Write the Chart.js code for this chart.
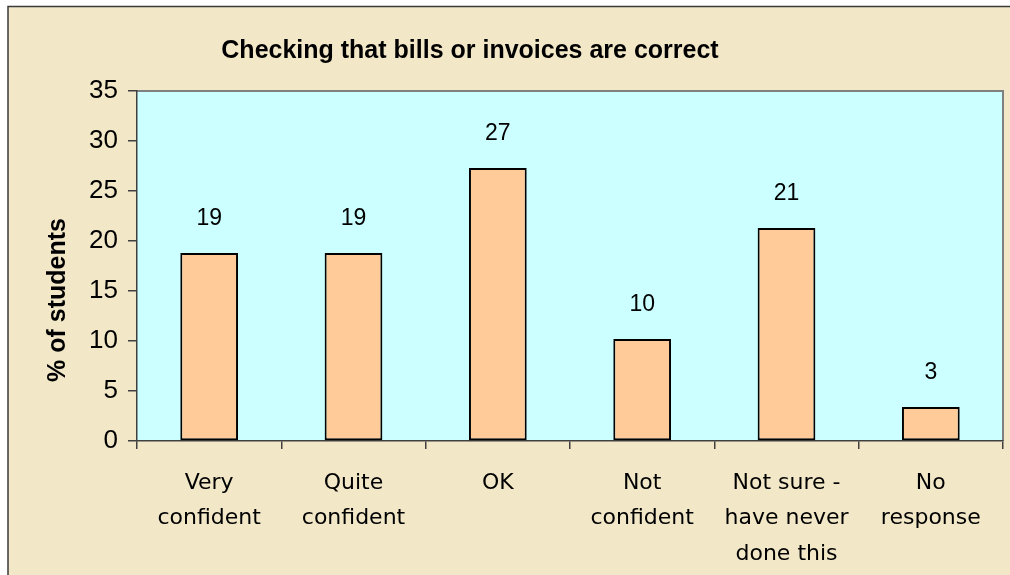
<!DOCTYPE html>
<html>
<head>
<meta charset="utf-8">
<script src="https://cdn.jsdelivr.net/npm/chart.js@4"></script>
<style>
  html, body { margin: 0; padding: 0; background: #fff; }
  #wrap { width: 1010px; height: 575px; }
</style>
</head>
<body>
<div id="wrap"><canvas id="chart" width="1010" height="575"></canvas></div>
<script>
// Data
const categories = [
  ['Very', 'confident'],
  ['Quite', 'confident'],
  'OK',
  ['Not', 'confident'],
  ['Not sure -', 'have never', 'done this'],
  ['No', 'response']
];
const percentValues = [18.8, 18.8, 27.3, 10.2, 21.3, 3.4];
const valueLabels = ['19', '19', '27', '10', '21', '3'];
const yMin = 0;
const yMax = 35;
const yStep = 5;

const chartTitle = 'Checking that bills or invoices are correct';
const yTitle = '% of students';

// Background, frame and plot area
const framePlugin = {
  id: 'frame',
  beforeDraw(chart) {
    const ctx = chart.ctx;
    const a = chart.chartArea;
    ctx.save();
    ctx.fillStyle = '#ffffff';
    ctx.fillRect(0, 0, chart.width, chart.height);
    ctx.fillStyle = '#f2e8c8';
    ctx.fillRect(8, 6, chart.width - 8, chart.height - 6);
    ctx.strokeStyle = '#3a3a3a';
    ctx.lineWidth = 1.5;
    ctx.beginPath();
    ctx.moveTo(8, chart.height);
    ctx.lineTo(8, 6.5);
    ctx.lineTo(chart.width, 6.5);
    ctx.stroke();
    ctx.fillStyle = '#ccffff';
    ctx.fillRect(a.left, a.top, a.right - a.left, a.bottom - a.top);
    ctx.strokeStyle = '#808080';
    ctx.lineWidth = 2;
    ctx.beginPath();
    ctx.moveTo(a.left, a.top);
    ctx.lineTo(a.right, a.top);
    ctx.lineTo(a.right, a.bottom);
    ctx.stroke();
    ctx.restore();
  },
  afterDraw(chart) {
    const ctx = chart.ctx;
    ctx.save();
    ctx.fillStyle = '#000';
    ctx.font = 'bold 25px "Liberation Sans", Arial, sans-serif';
    ctx.textAlign = 'center';
    ctx.textBaseline = 'alphabetic';
    ctx.fillText(chartTitle, 470, 58);
    ctx.translate(65, 300);
    ctx.rotate(-Math.PI / 2);
    ctx.fillText(yTitle, 0, 0);
    ctx.restore();
  }
};

// Value labels above the bars
const barLabelPlugin = {
  id: 'barLabels',
  afterDatasetsDraw(chart) {
    const ctx = chart.ctx;
    const meta = chart.getDatasetMeta(0);
    ctx.save();
    ctx.fillStyle = '#000';
    ctx.font = '23px "Liberation Sans", Arial, sans-serif';
    ctx.textAlign = 'center';
    ctx.textBaseline = 'alphabetic';
    meta.data.forEach((bar, i) => {
      ctx.fillText(valueLabels[i], bar.x, bar.y - 28);
    });
    ctx.restore();
  }
};

new Chart(document.getElementById('chart'), {
  type: 'bar',
  data: {
    labels: categories,
    datasets: [{
      data: percentValues,
      backgroundColor: '#ffcc99',
      borderColor: '#000000',
      borderWidth: 2,
      borderSkipped: false,
      categoryPercentage: 1,
      barPercentage: 0.4
    }]
  },
  options: {
    responsive: false,
    animation: false,
    layout: { padding: { left: 0, right: 7, top: 91, bottom: 0 } },
    plugins: {
      legend: { display: false },
      tooltip: { enabled: false }
    },
    scales: {
      x: {
        afterFit(scale) { scale.height = 134; },
        grid: {
          offset: true,
          drawOnChartArea: false,
          tickLength: 8,
          color: '#404040',
          lineWidth: 1.5
        },
        border: { color: '#404040', width: 1.5 },
        ticks: {
          color: '#000',
          padding: 16,
          maxRotation: 0,
          autoSkip: false,
          font: { family: '"DejaVu Sans", sans-serif', size: 22, lineHeight: 1.62 }
        }
      },
      y: {
        min: yMin,
        max: yMax,
        afterFit(scale) { scale.width = 137; },
        grid: {
          drawOnChartArea: false,
          tickLength: 9,
          color: '#404040',
          lineWidth: 1.5
        },
        border: { color: '#404040', width: 1.5 },
        ticks: {
          stepSize: yStep,
          color: '#000',
          padding: 10,
          font: { family: '"Liberation Sans", Arial, sans-serif', size: 26 }
        }
      }
    }
  },
  plugins: [framePlugin, barLabelPlugin]
});
</script>
</body>
</html>
